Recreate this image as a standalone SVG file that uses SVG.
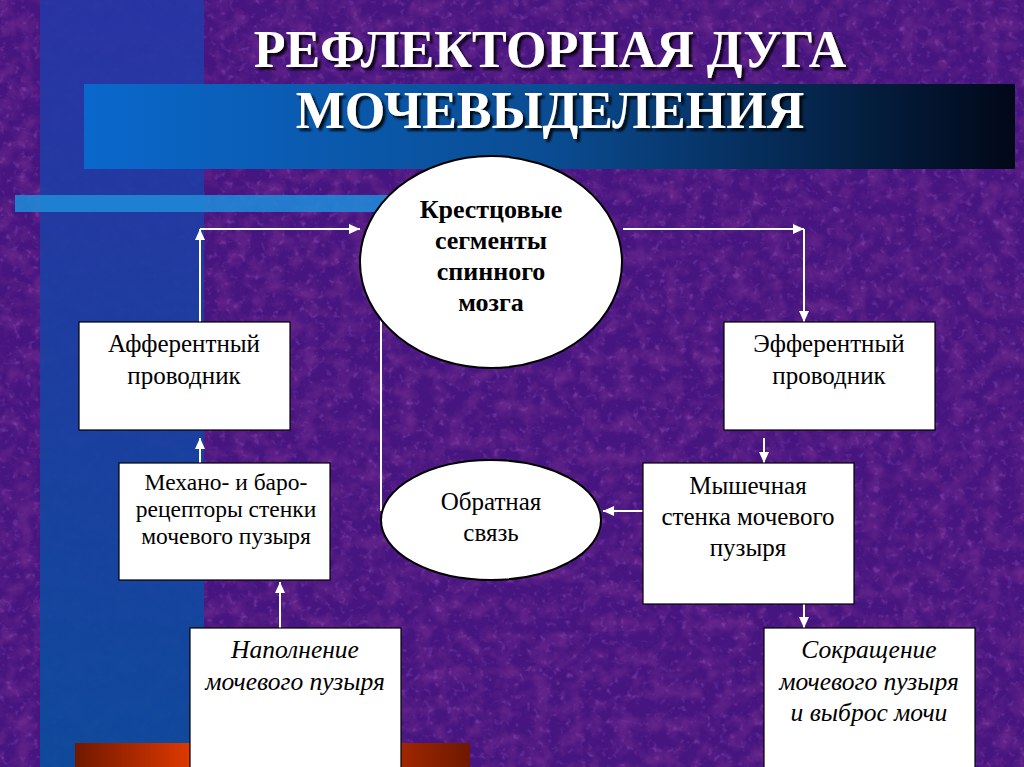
<svg xmlns="http://www.w3.org/2000/svg" width="1024" height="767" viewBox="0 0 1024 767">
<defs>
<filter id="tex" x="0" y="0" width="100%" height="100%" filterUnits="userSpaceOnUse">
<feTurbulence type="fractalNoise" baseFrequency="0.15" numOctaves="3" seed="7" result="n"/>
<feColorMatrix in="n" type="matrix" values="0 0 0 0 0.42  0 0 0 0 0.12  0 0 0 0 0.66  1.2 0 0 0 -0.7"/>
</filter>
<filter id="tex2" x="0" y="0" width="100%" height="100%" filterUnits="userSpaceOnUse">
<feTurbulence type="fractalNoise" baseFrequency="0.06" numOctaves="3" seed="11" result="n"/>
<feColorMatrix in="n" type="matrix" values="0 0 0 0 0.14  0 0 0 0 0.02  0 0 0 0 0.26  2 0 0 0 -0.8"/>
</filter>
<filter id="shadow" x="-10%" y="-20%" width="120%" height="150%">
<feDropShadow dx="3" dy="3" stdDeviation="1.2" flood-color="#000" flood-opacity="0.85"/>
</filter>
<linearGradient id="strip" x1="0" y1="0" x2="0" y2="1">
<stop offset="0" stop-color="#2636a6"/>
<stop offset="1" stop-color="#0a4d9e"/>
</linearGradient>
<linearGradient id="band" x1="0" y1="0" x2="1" y2="0">
<stop offset="0" stop-color="#0a68cc"/>
<stop offset="0.5" stop-color="#0a4c92"/>
<stop offset="1" stop-color="#010818"/>
</linearGradient>
<linearGradient id="red" x1="0" y1="0" x2="1" y2="0">
<stop offset="0" stop-color="#701800"/>
<stop offset="0.3" stop-color="#e23a00"/>
<stop offset="0.7" stop-color="#c53200"/>
<stop offset="1" stop-color="#6e1800"/>
</linearGradient>
<marker id="ah" markerUnits="userSpaceOnUse" markerWidth="12" markerHeight="10" refX="11" refY="5" orient="auto">
<path d="M0,0 L11,5 L0,10 Z" fill="#fff"/>
</marker>
<style>
.title{font-family:"Liberation Serif","Times New Roman",serif;font-weight:bold;font-size:52px;fill:#fff;text-anchor:middle}
.box{fill:#fff;stroke:#000;stroke-width:1.2}
.ell{fill:#fff;stroke:#000;stroke-width:2}
.t{font-family:"Liberation Serif","Times New Roman",serif;font-size:25px;fill:#000;text-anchor:middle}
.tb{font-family:"Liberation Serif","Times New Roman",serif;font-size:26px;font-weight:bold;fill:#000;text-anchor:middle}
.ti{font-family:"Liberation Serif","Times New Roman",serif;font-size:25.5px;font-style:italic;fill:#000;text-anchor:middle}
.c{fill:none;stroke:#fff;stroke-width:2}
.ca{fill:none;stroke:#fff;stroke-width:2;marker-end:url(#ah)}
</style>
</defs>
<g id="background">
<rect x="0" y="0" width="1024" height="767" fill="#47157f"/>
<rect x="0" y="0" width="1024" height="767" filter="url(#tex2)"/>
<rect x="0" y="0" width="1024" height="767" filter="url(#tex)"/>
<rect x="40" y="0" width="164" height="767" fill="url(#strip)" opacity="0.92"/>
<rect x="84" y="84" width="931" height="85" fill="url(#band)"/>
<rect x="15" y="195" width="390" height="17" fill="#1e8ddb" opacity="0.85"/>
<rect x="75" y="743" width="395" height="24" fill="url(#red)"/>
</g>
<g id="title" filter="url(#shadow)">
<text class="title" x="550" y="67">РЕФЛЕКТОРНАЯ ДУГА</text>
<text class="title" x="550" y="128">МОЧЕВЫДЕЛЕНИЯ</text>
</g>
<g id="connectors">
<path class="ca" d="M200,322 V229"/>
<path class="ca" d="M200,229 H360"/>
<path class="ca" d="M623,229 H804"/>
<path class="ca" d="M804,229 V322"/>
<path class="ca" d="M764,438 V463"/>
<path class="ca" d="M200,463 V438"/>
<path class="ca" d="M280,628 V582"/>
<path class="ca" d="M643,511 H603"/>
<path class="ca" d="M804,604 V628"/>
<path class="c" d="M381,319 V511"/>
</g>
<g id="node-spinal">
<ellipse class="ell" cx="491" cy="262" rx="131" ry="106"/>
<text class="tb" x="491" y="218">Крестцовые</text>
<text class="tb" x="491" y="249">сегменты</text>
<text class="tb" x="491" y="280">спинного</text>
<text class="tb" x="491" y="311">мозга</text>
</g>
<g id="node-afferent">
<rect class="box" x="79" y="322" width="211" height="108"/>
<text class="t" x="184" y="352">Афферентный</text>
<text class="t" x="184" y="384">проводник</text>
</g>
<g id="node-efferent">
<rect class="box" x="724" y="322" width="211" height="108"/>
<text class="t" x="829" y="352">Эфферентный</text>
<text class="t" x="829" y="384">проводник</text>
</g>
<g id="node-receptors">
<rect class="box" x="119" y="463" width="211" height="117"/>
<text class="t" x="226" y="490" style="font-size:23.5px">Механо- и баро-</text>
<text class="t" x="226" y="517" style="font-size:23.5px">рецепторы стенки</text>
<text class="t" x="226" y="544" style="font-size:23.5px">мочевого пузыря</text>
</g>
<g id="node-feedback">
<ellipse class="ell" cx="491" cy="520" rx="110" ry="60"/>
<text class="t" x="491" y="510">Обратная</text>
<text class="t" x="491" y="541">связь</text>
</g>
<g id="node-muscle">
<rect class="box" x="643" y="463" width="211" height="141"/>
<text class="t" x="748" y="494">Мышечная</text>
<text class="t" x="748" y="525">стенка мочевого</text>
<text class="t" x="748" y="556">пузыря</text>
</g>
<g id="node-filling">
<rect class="box" x="190" y="628" width="211" height="145"/>
<text class="ti" x="295" y="658">Наполнение</text>
<text class="ti" x="295" y="690">мочевого пузыря</text>
</g>
<g id="node-contraction">
<rect class="box" x="764" y="628" width="211" height="145"/>
<text class="ti" x="869" y="658">Сокращение</text>
<text class="ti" x="869" y="690">мочевого пузыря</text>
<text class="ti" x="869" y="721">и выброс мочи</text>
</g>
</svg>
